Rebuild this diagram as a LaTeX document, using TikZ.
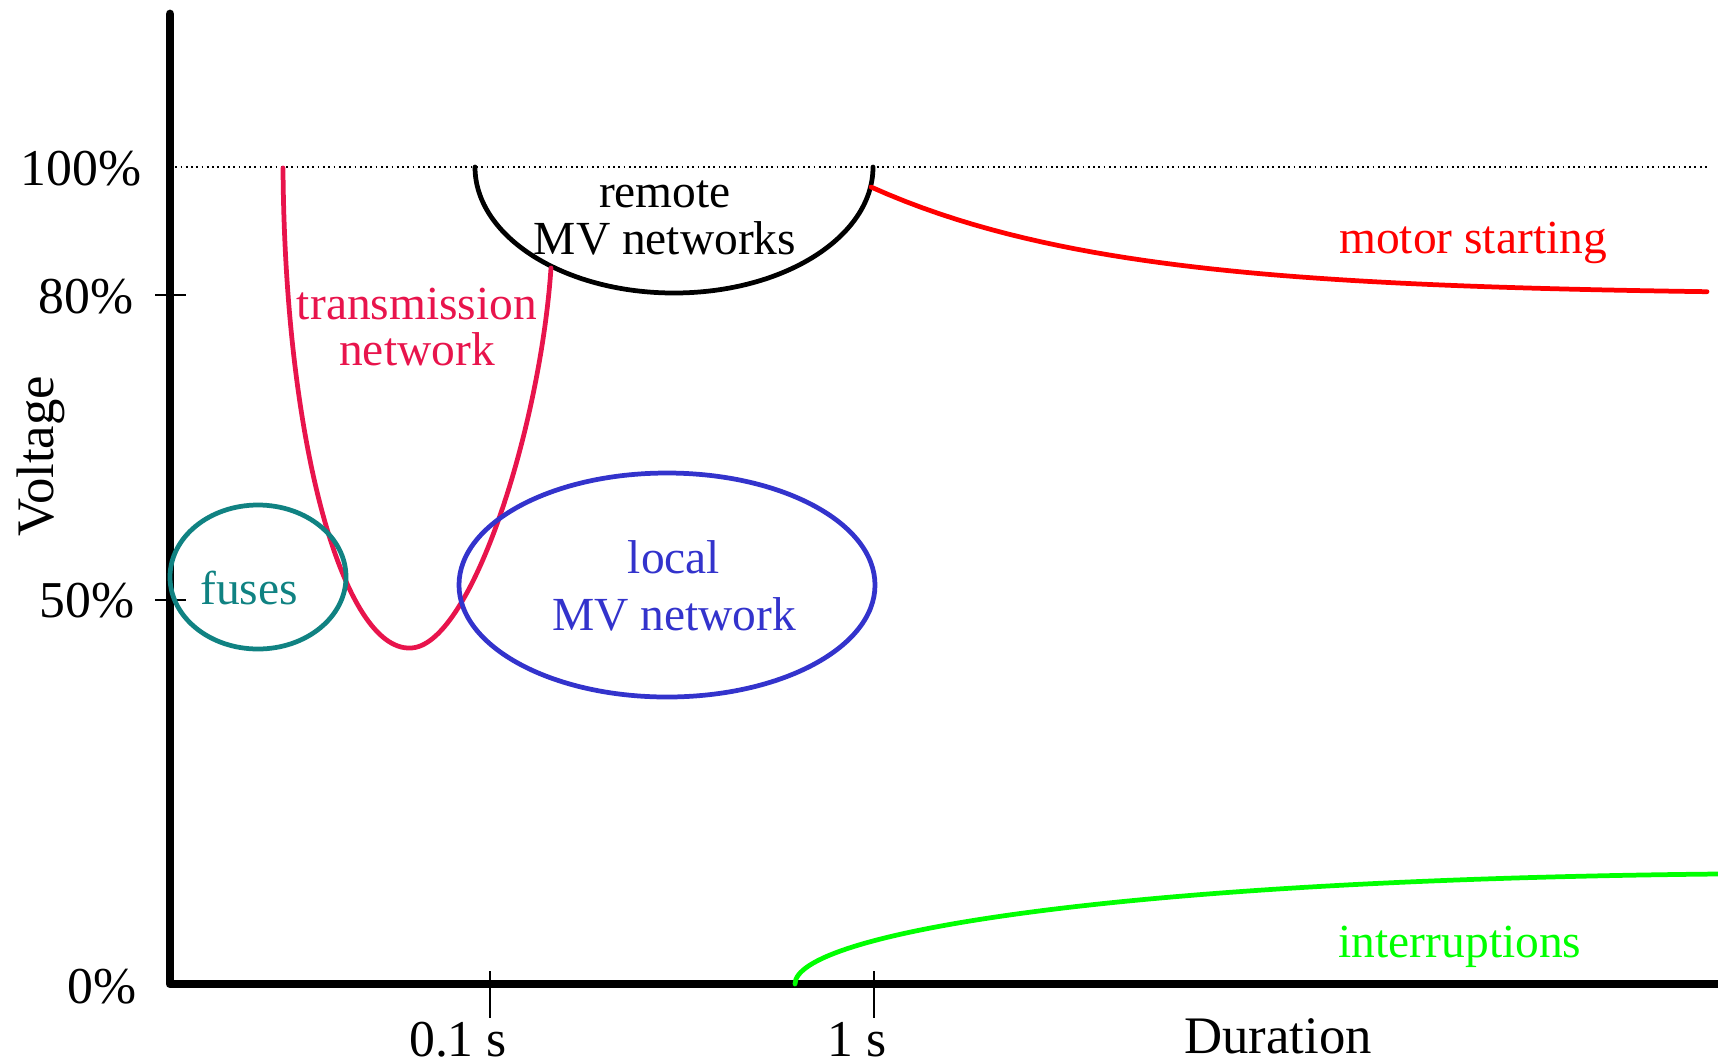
\documentclass[tikz,border=0pt]{standalone}
\usepackage{fontspec}
\setmainfont{Liberation Serif}
\definecolor{transDraw}{HTML}{E8144C}
\definecolor{fuseDraw}{HTML}{108282}
\definecolor{localDraw}{HTML}{3333CC}
\definecolor{motorDraw}{HTML}{FF0000}
\definecolor{intrDraw}{HTML}{00FF00}
\tikzset{
  axis/.style    ={line width=2.5pt, line cap=round, line join=round},
  tickmark/.style={line width=0.45pt},
  curve/.style   ={line width=1.35pt, line cap=round},
  lbl/.style     ={align=center, inner sep=0pt, font=\fontsize{13.5}{13.2}\selectfont},
  ticklbl/.style ={inner sep=0pt, font=\fontsize{14.7}{17}\selectfont},
  title/.style   ={inner sep=0pt, font=\fontsize{15}{18}\selectfont},
}

\begin{document}
\begin{tikzpicture}[x=0.01cm, y=-0.01cm]
  \useasboundingbox (0,0) rectangle (1718,1063);

  % axes
  \coordinate (top)    at (170,14);
  \coordinate (origin) at (170,984);
  \coordinate (right)  at (1725,984);
  \draw[axis] (top) -- (origin) -- (right);
  \draw[densely dotted, line width=0.5pt] (170,167) -- (1707,167);

  \draw[tickmark] (155,295) -- (186,295);
  \draw[tickmark] (155,600) -- (186,600);
  \draw[tickmark] (490,971) -- (490,1018);
  \draw[tickmark] (874,971) -- (874,1018);

  \node[ticklbl, anchor=base east] (p100) at (142,185)  {100\%};
  \node[ticklbl, anchor=base east] (p80)  at (134,313)  {80\%};
  \node[ticklbl, anchor=base east] (p50)  at (135,617)  {50\%};
  \node[ticklbl, anchor=base east] (p0)   at (137,1003) {0\%};
  \node[ticklbl, anchor=base] (t01) at (458,1056) {0.1 s};
  \node[ticklbl, anchor=base] (t1)  at (857,1056) {1 s};
  \node[title, anchor=base] (xlab) at (1278,1053) {Duration};
  \node[title, rotate=90, anchor=base] (ylab) at (54,456) {Voltage};

  % regions
  \draw[curve] (475,167) arc[start angle=180, end angle=0, x radius=199, y radius=126];
  \draw[curve, transDraw] (283,168) .. controls (285,450) and (345,650) .. (410,648)
                                    .. controls (470,648) and (540,430) .. (551,268);
  \draw[curve, fuseDraw]  (258,577) ellipse [x radius=88,  y radius=72];
  \draw[curve, localDraw] (667,585) ellipse [x radius=208, y radius=112];
  \draw[curve, motorDraw] plot[domain=871:1707, samples=50] (\x, {295-108*exp(-(\x-871)/240)});
  \draw[curve, intrDraw] (795,984) .. controls (795,935) and (1100,880) .. (1718,874);

  \node[lbl] (remote) at (665,218) {remote\\MV networks};
  \node[lbl, text=transDraw] (trans) at (417,327) {transmission\\network};
  \node[lbl, text=fuseDraw, anchor=base] (fuses) at (249,604) {fuses};
  \node[lbl, text=localDraw, font=\fontsize{13.5}{16.3}\selectfont] (local) at (674,586) {local\\MV network};
  \node[lbl, text=motorDraw, anchor=base] (motor) at (1473,253) {motor starting};
  \node[lbl, text=intrDraw, anchor=base] (intr) at (1460,957) {interruptions};
\end{tikzpicture}
\end{document}
